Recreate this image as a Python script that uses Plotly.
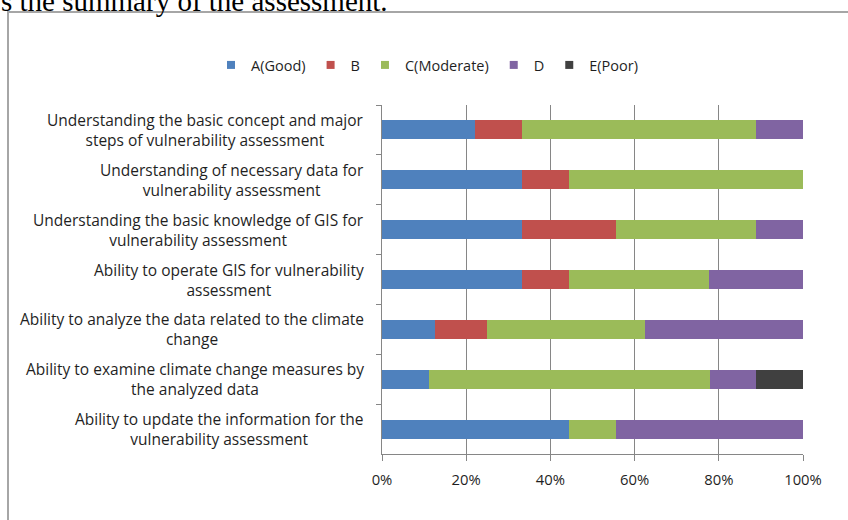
import plotly.graph_objects as go

# Self-assessment results per competency (share of respondents, %)
categories = [
    "Understanding the basic concept and major<br>steps of vulnerability assessment",
    "Understanding of necessary data for<br>vulnerability assessment",
    "Understanding the basic knowledge of GIS for<br>vulnerability assessment",
    "Ability to operate GIS for vulnerability<br>assessment",
    "Ability to analyze the data related to the climate<br>change",
    "Ability to examine climate change measures by<br>the analyzed data",
    "Ability to update the information for the<br>vulnerability assessment",
]
grade_a = [22.2, 33.3, 33.3, 33.3, 12.5, 11.1, 44.4]
grade_b = [11.1, 11.1, 22.2, 11.1, 12.5, 0.0, 0.0]
grade_c = [55.6, 55.6, 33.3, 33.3, 37.5, 66.7, 11.1]
grade_d = [11.1, 0.0, 11.1, 22.2, 37.5, 11.1, 44.4]
grade_e = [0.0, 0.0, 0.0, 0.0, 0.0, 11.1, 0.0]

series_names = ["A(Good)", "B", "C(Moderate)", "D", "E(Poor)"]
series_values = [grade_a, grade_b, grade_c, grade_d, grade_e]
series_colors = ["#4F81BD", "#C0504D", "#9BBB59", "#8064A2", "#404040"]

x_ticks = [0, 20, 40, 60, 80, 100]
x_tick_text = ["0%", "20%", "40%", "60%", "80%", "100%"]

FONT = "Open Sans"
LABEL_SIZE = 15.5
TEXT = "#1f1f1f"
GRID = "#868686"

W, H = 848, 520
L, R, T, B = 382, 45, 105, 66
pw, ph = W - L - R, H - T - B


def px_x(p):
    return (p - L) / pw


def px_y(p):
    return (H - B - p) / ph


fig = go.Figure()
for name, vals, col in zip(series_names, series_values, series_colors):
    fig.add_trace(go.Bar(
        y=categories, x=vals, name=name, orientation="h",
        marker=dict(color=col, line=dict(width=0)),
        width=0.38, showlegend=False, legendgroup=name,
    ))
    # small square legend key for the series
    fig.add_trace(go.Scatter(
        x=[None], y=[None], mode="markers", name=name, legendgroup=name,
        marker=dict(symbol="square", size=8, color=col),
    ))

fig.update_layout(
    width=W, height=H,
    margin=dict(l=L, r=R, t=T, b=B),
    paper_bgcolor="white", plot_bgcolor="white",
    barmode="stack",
    font=dict(family=FONT, size=14, color=TEXT),
    showlegend=True,
    legend=dict(
        # anchored left of the plot area so the single row may use the margin
        orientation="h", x=px_x(211), xanchor="left",
        y=px_y(65), yanchor="middle",
        font=dict(family=FONT, size=14.5, color=TEXT),
        itemwidth=30, tracegroupgap=0, traceorder="normal",
        itemsizing="trace", bgcolor="rgba(0,0,0,0)",
    ),
    xaxis=dict(
        range=[0, 100], tickvals=x_ticks, ticktext=x_tick_text,
        showgrid=True, gridcolor=GRID, gridwidth=1,
        showline=True, linecolor=GRID, linewidth=1,
        ticks="outside", ticklen=6, tickcolor=GRID,
        ticklabelstandoff=6,
        tickfont=dict(family=FONT, size=14.8, color=TEXT),
        zeroline=False, fixedrange=True,
    ),
    yaxis=dict(
        type="category", categoryarray=categories, autorange="reversed",
        tickson="boundaries", ticks="outside", ticklen=5, tickcolor=GRID,
        showticklabels=False, showgrid=False,
        showline=True, linecolor=GRID, linewidth=1,
        zeroline=False, fixedrange=True,
    ),
)

# Category labels: right-aligned block, each line centred inside it
for cat in categories:
    fig.add_annotation(
        xref="paper", yref="y", x=px_x(366), y=cat,
        xanchor="right", yanchor="middle", align="center",
        text=cat, showarrow=False,
        font=dict(family=FONT, size=LABEL_SIZE, color=TEXT),
    )

# Chart frame
fig.add_shape(
    type="rect", xref="paper", yref="paper",
    x0=px_x(8), x1=px_x(W + 20), y0=px_y(H + 20), y1=px_y(12),
    line=dict(color="#A6A6A6", width=2), fillcolor="rgba(0,0,0,0)",
    layer="below",
)

# Running text above the chart
fig.add_annotation(
    xref="paper", yref="paper", x=px_x(-1), y=px_y(1),
    xanchor="left", yanchor="middle",
    text="s the summary of the assessment.", showarrow=False,
    font=dict(family="Liberation Serif", size=29, color="#000000"),
)

fig.write_html("out.html")
